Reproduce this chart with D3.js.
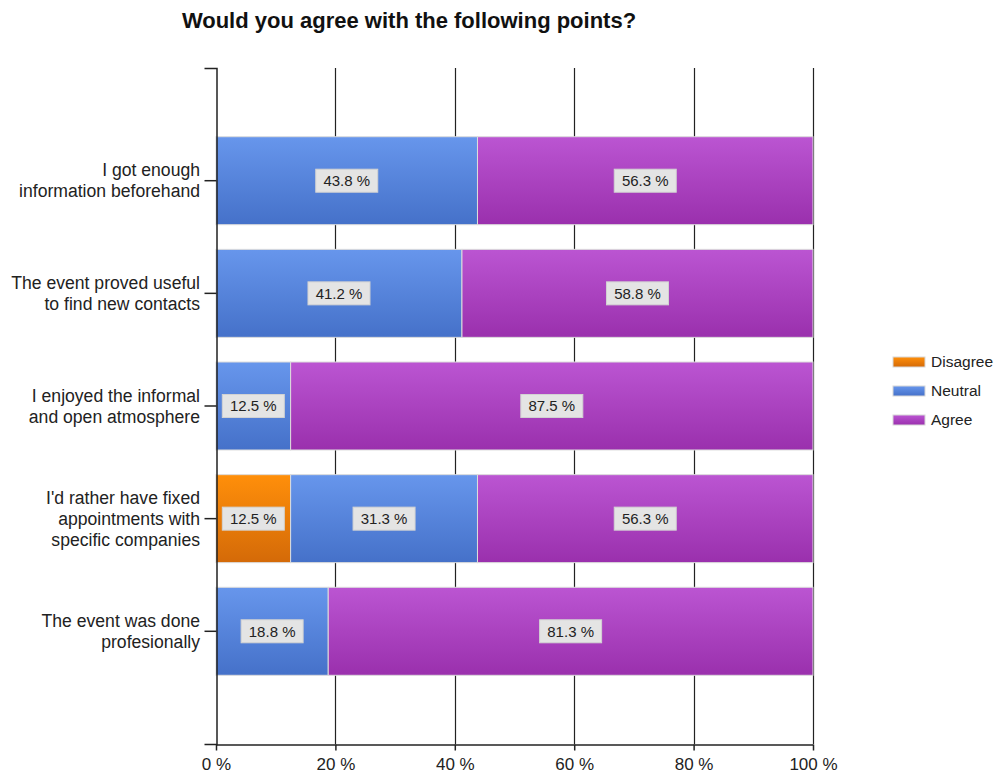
<!DOCTYPE html>
<html>
<head>
<meta charset="utf-8">
<script src="https://cdn.jsdelivr.net/npm/d3@7"></script>
<style>
  html, body { margin: 0; padding: 0; background: #fff; }
  svg { display: block; font-family: "Liberation Sans", Arial, sans-serif; }
</style>
</head>
<body>
<svg id="chart" width="996" height="775"></svg>
<script>
// Survey statements (one line per array entry for wrapped labels)
const categories = [
  ["I got enough", "information beforehand"],
  ["The event proved useful", "to find new contacts"],
  ["I enjoyed the informal", "and open atmosphere"],
  ["I'd rather have fixed", "appointments with", "specific companies"],
  ["The event was done", "profesionally"]
];
const seriesNames = ["Disagree", "Neutral", "Agree"];
// Percent of answers per statement
const disagree = [0, 0, 0, 12.5, 0];
const neutral  = [43.8, 41.2, 12.5, 31.3, 18.8];
const agree    = [56.3, 58.8, 87.5, 56.3, 81.3];
const xTicks   = [0, 20, 40, 60, 80, 100];
const title    = "Would you agree with the following points?";

const svg = d3.select("#chart");
const margin = { left: 216, right: 183, top: 68, bottom: 31 };
const W = 996, H = 775;
const x0 = margin.left, x1 = W - margin.right;
const y0 = margin.top, y1 = H - margin.bottom;

const keys = categories.map((c, i) => "c" + i);
const x = d3.scaleLinear().domain([0, 100]).range([x0, x1]);
const y = d3.scaleBand().domain(keys).range([y0, y1]).paddingInner(0.219).paddingOuter(0.61);

// Gradients for each series
const colors = {
  Disagree: ["#ff8f0a", "#d46a08"],
  Neutral:  ["#6796ec", "#4571c9"],
  Agree:    ["#bb55d2", "#9a30ad"]
};
const defs = svg.append("defs");
seriesNames.forEach(n => {
  const g = defs.append("linearGradient").attr("id", "g-" + n)
    .attr("x1", 0).attr("y1", 0).attr("x2", 0).attr("y2", 1);
  g.append("stop").attr("offset", "0%").attr("stop-color", colors[n][0]);
  g.append("stop").attr("offset", "100%").attr("stop-color", colors[n][1]);
});

// Title
svg.append("text")
  .attr("x", 409).attr("y", 28)
  .attr("text-anchor", "middle")
  .attr("font-size", 22).attr("font-weight", "bold")
  .attr("fill", "#111")
  .text(title);

// Vertical grid lines
svg.append("g").selectAll("line")
  .data(xTicks.filter(t => t > 0))
  .join("line")
  .attr("x1", d => Math.round(x(d)) + 0.5).attr("x2", d => Math.round(x(d)) + 0.5)
  .attr("y1", y0).attr("y2", y1)
  .attr("stroke", "#222").attr("stroke-width", 1.2);

// Stacked bars
const table = keys.map((k, i) => ({
  key: k, Disagree: disagree[i], Neutral: neutral[i], Agree: agree[i]
}));
const stacked = d3.stack().keys(seriesNames)(table);

const barG = svg.append("g");
stacked.forEach(layer => {
  const name = layer.key;
  const segs = layer.filter(d => d[1] - d[0] > 0);
  barG.append("g").selectAll("rect")
    .data(segs)
    .join("rect")
    .attr("x", d => x(d[0]))
    .attr("y", d => y(d.data.key))
    .attr("width", d => Math.min(x(d[1]), x1) - x(d[0]))
    .attr("height", y.bandwidth())
    .attr("fill", "url(#g-" + name + ")")
    .attr("stroke", "#dcdcdc").attr("stroke-width", 1);

  // Value labels
  const lab = barG.append("g").selectAll("g")
    .data(segs)
    .join("g")
    .attr("transform", d => `translate(${(x(d[0]) + Math.min(x(d[1]), x1)) / 2},${y(d.data.key) + y.bandwidth() / 2})`);
  lab.append("rect")
    .attr("x", -31).attr("y", -11.5).attr("width", 62).attr("height", 23)
    .attr("fill", "#e4e4e4").attr("stroke", "#d2d2d2");
  lab.append("text")
    .attr("text-anchor", "middle").attr("dy", "0.35em")
    .attr("font-size", 15).attr("fill", "#222")
    .text(d => d3.format(".1f")(d[1] - d[0]) + " %");
});

// Y axis (domain + category ticks)
const yAxis = d3.axisLeft(y).tickSize(12).tickSizeOuter(12).tickFormat("");
const yg = svg.append("g").attr("transform", `translate(${x0 + 0.5},0)`).call(yAxis);
yg.select(".domain").attr("stroke", "#222").attr("stroke-width", 1.5);
yg.selectAll(".tick line").attr("stroke", "#222").attr("stroke-width", 1.5);

// Wrapped category labels
svg.append("g").selectAll("text")
  .data(categories.map((c, i) => ({ lines: c, key: keys[i] })))
  .join("text")
  .attr("text-anchor", "end")
  .attr("font-size", 17.6).attr("fill", "#222")
  .each(function(d) {
    const t = d3.select(this);
    const cy = y(d.key) + y.bandwidth() / 2;
    const lh = 21;
    const start = cy - (d.lines.length - 1) * lh / 2;
    d.lines.forEach((ln, j) => {
      t.append("tspan").attr("x", 200).attr("y", start + j * lh).attr("dy", "0.35em").text(ln);
    });
  });

// X axis
const xAxis = d3.axisBottom(x).tickValues(xTicks).tickSize(6).tickSizeOuter(0)
  .tickFormat(d => d + " %");
const xg = svg.append("g").attr("transform", `translate(0,${y1 + 0.5})`).call(xAxis);
xg.select(".domain").attr("stroke", "#222").attr("stroke-width", 1.5);
xg.selectAll(".tick line").attr("stroke", "#222").attr("stroke-width", 1.5);
xg.selectAll(".tick text").attr("font-size", 17).attr("fill", "#222")
  .attr("font-family", "Liberation Sans, Arial, sans-serif").attr("dy", "0.95em");

// Legend
const leg = svg.append("g").attr("transform", "translate(893,357)")
  .selectAll("g").data(seriesNames).join("g")
  .attr("transform", (d, i) => `translate(0,${i * 29})`);
leg.append("rect").attr("width", 32).attr("height", 10)
  .attr("fill", d => "url(#g-" + d + ")").attr("stroke", "#d8d8d8");
leg.append("text").attr("x", 38).attr("y", 5).attr("dy", "0.35em")
  .attr("font-size", 15.5).attr("fill", "#222").text(d => d);
</script>
</body>
</html>
